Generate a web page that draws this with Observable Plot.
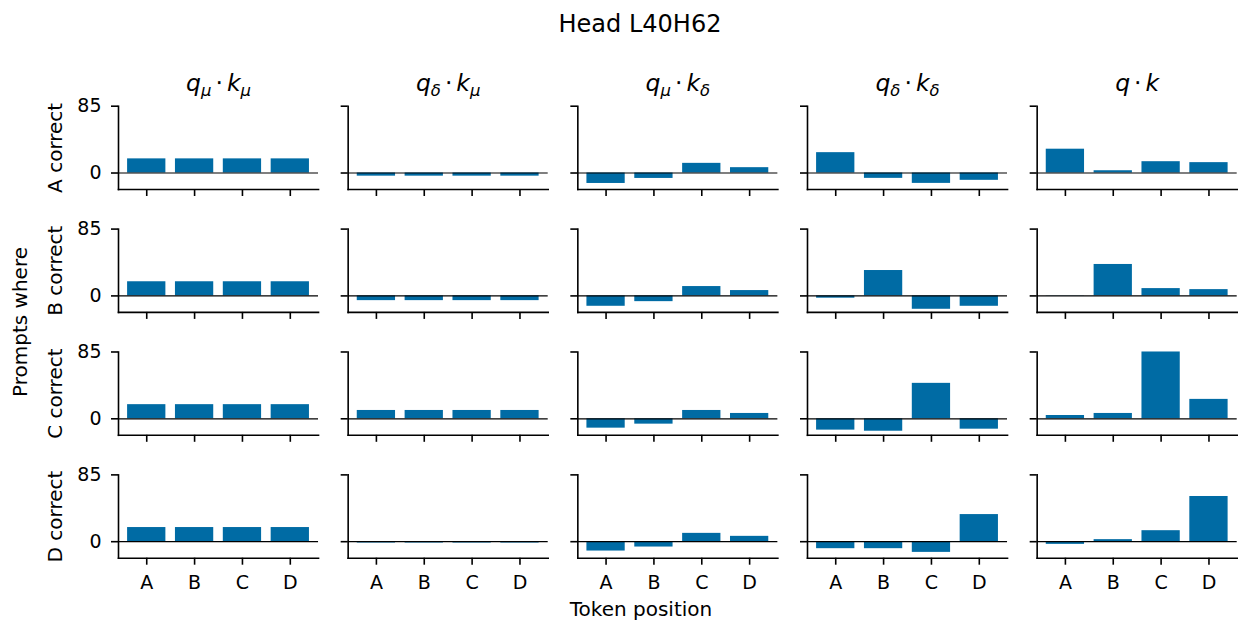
<!DOCTYPE html>
<html><head><meta charset="utf-8">
<script src="https://cdn.jsdelivr.net/npm/d3@7"></script>
<script src="https://cdn.jsdelivr.net/npm/@observablehq/plot@0.6"></script>
<style>
body{margin:0;background:#fff;font-family:"DejaVu Sans",sans-serif;}
#wrap{position:relative;width:1242px;height:628px;overflow:hidden;background:#fff;}
#wrap svg{position:absolute;left:0;top:0;}
.lbl{position:absolute;color:#000;white-space:nowrap;}
</style></head><body><div id="wrap"></div>
<script>
// categories
const tokens = ["A","B","C","D"];
const promptRows = ["A correct","B correct","C correct","D correct"];
const termKeys = ["q_μ⋅k_μ","q_δ⋅k_μ","q_μ⋅k_δ","q_δ⋅k_δ","q⋅k"];
// series values: rows = prompts where X correct, columns = token position A..D
const qmu_kmu       = [[18,18,18,18],[18,18,18,18],[18,18,18,18],[18,18,18,18]];
const qdelta_kmu    = [[-4,-4,-4,-4],[-6,-6,-6,-6],[10.6,10.6,10.6,10.6],[-1.7,-1.7,-1.7,-1.7]];
const qmu_kdelta    = [[-13.3,-6.9,12.3,6.8],[-13.2,-7.3,11.9,6.8],[-11.9,-6.8,10.6,6.8],[-11.9,-6.8,10.6,6.8]];
const qdelta_kdelta = [[25.9,-6.8,-13.2,-9.3],[-2.9,32.3,-17,-13.2],[-14.4,-15.8,45.1,-13.2],[-8.9,-8.9,-13.6,34.5]];
const q_k           = [[30.3,2.9,14.4,13.2],[0.3,40,9.3,8],[4.2,6.8,85,24.7],[-3.4,2.6,14,57.5]];
const yTicks = [0, 85];
const yDomain = [-21, 85];
const title = "Head L40H62";
const xLabel = "Token position";
const yLabel = "Prompts where";

const series = [qmu_kmu, qdelta_kmu, qmu_kdelta, qdelta_kdelta, q_k];
const data = [];
series.forEach((mat, ti) => mat.forEach((row, ri) => row.forEach((v, ki) => {
  data.push({term: termKeys[ti], row: promptRows[ri], token: tokens[ki], value: v});
})));

const color = "#006BA4";
const sw = 1.6;

const svg = Plot.plot({
  width: 1242, height: 628,
  marginLeft: 118, marginRight: 5.3, marginTop: 105.7, marginBottom: 70.3,
  style: {fontFamily: "DejaVu Sans, sans-serif", fontSize: "19px", color: "#000", background: "transparent", overflow: "visible"},
  fx: {domain: termKeys, paddingInner: 0.129, paddingOuter: 0, round: false, axis: null},
  fy: {domain: promptRows, paddingInner: 0.322, paddingOuter: 0, round: false, axis: null},
  x: {domain: tokens, paddingInner: 0.2, paddingOuter: 0.19, round: false},
  y: {domain: yDomain},
  marks: [
    Plot.barY(data, {fx: "term", fy: "row", x: "token", y: "value", fill: color}),
    Plot.ruleY([0], {stroke: "#000", strokeWidth: 1.2}),
    Plot.frame({anchor: "left", strokeWidth: sw}),
    Plot.frame({anchor: "bottom", strokeWidth: sw}),
    Plot.axisY({ticks: yTicks, tickSize: 7, facetAnchor: null, tickFormat: () => "", strokeWidth: sw, label: null}),
    Plot.axisY({ticks: yTicks, tickSize: 0, tickPadding: 17, facetAnchor: "left", label: null, fontSize: 19}),
    Plot.axisX({tickSize: 7, facetAnchor: null, tickFormat: () => "", strokeWidth: sw, label: null}),
    Plot.axisX({tickSize: 0, tickPadding: 17, facetAnchor: "bottom", label: null, fontSize: 19}),
    Plot.text(promptRows, {fy: d => d, fx: () => termKeys[0], text: d => d, frameAnchor: "left", textAnchor: "middle", lineAnchor: "middle", rotate: -90, dx: -63, fontSize: 20}),
    Plot.text(termKeys, {fx: d => d, fy: () => promptRows[0], text: d => d, frameAnchor: "top", textAnchor: "middle", dy: -32, fontSize: 23.5, className: "coltitle"})
  ]
});

// render math-style titles (italic letters, subscripts)
const ns = "http://www.w3.org/2000/svg";
svg.querySelectorAll(".coltitle text").forEach(t => {
  const chars = Array.from(t.textContent);
  t.textContent = "";
  let back = 0, gap = false;
  for (let i = 0; i < chars.length; i++) {
    const c = chars[i];
    const sp = document.createElementNS(ns, "tspan");
    if (c === "_") {
      sp.textContent = chars[++i];
      sp.setAttribute("font-size", "0.7em");
      sp.setAttribute("font-style", "italic");
      sp.setAttribute("dy", "5");
      back = -5;
    } else if (c === "⋅") {
      sp.textContent = c;
      sp.setAttribute("dx", "4");
      if (back) sp.setAttribute("dy", back);
      back = 0; gap = true;
    } else {
      sp.textContent = c;
      sp.setAttribute("font-style", "italic");
      if (back) sp.setAttribute("dy", back);
      if (gap) sp.setAttribute("dx", "4");
      back = 0; gap = false;
    }
    t.appendChild(sp);
  }
});

const wrap = document.getElementById("wrap");
wrap.appendChild(svg);

function addLabel(text, css) {
  const d = document.createElement("div");
  d.className = "lbl";
  d.textContent = text;
  Object.assign(d.style, css);
  wrap.appendChild(d);
}
addLabel(title, {left: "0px", width: "1280px", textAlign: "center", top: "12px", fontSize: "24px", lineHeight: "24px"});
addLabel(xLabel, {left: "0px", width: "1282px", textAlign: "center", top: "599px", fontSize: "20px", lineHeight: "20px"});
addLabel(yLabel, {left: "20px", top: "322px", fontSize: "20px", lineHeight: "20px", transform: "translate(-50%,-50%) rotate(-90deg)"});
</script></body></html>
